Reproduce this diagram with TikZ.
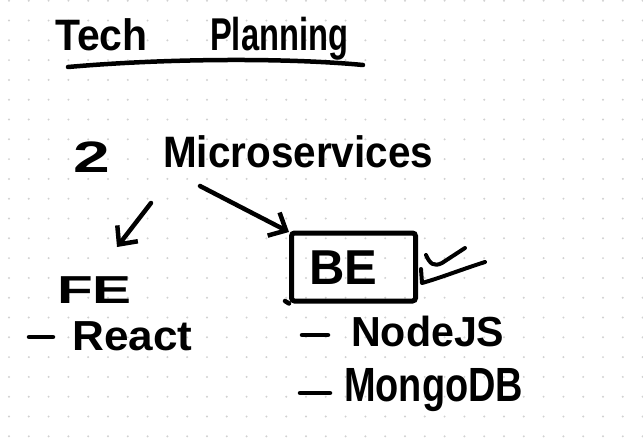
\documentclass[tikz,border=0pt]{standalone}
\usepackage{fontspec}
\setmainfont{Liberation Sans}
\usetikzlibrary{arrows.meta}
\tikzset{
  ink/.style={line width=4.5pt, line cap=round, line join=round, draw=black},
  hand/.style={inner sep=0pt, anchor=base west, font=\fontsize{#1}{#1}\selectfont\bfseries},
  barb/.style={-{Straight Barb[length=14pt, width=26pt]}},
  griddot/.style={fill=black!18, draw=none}
}
\begin{document}
\begin{tikzpicture}[x=1pt, y=-1pt]
\useasboundingbox (0,0) rectangle (643,440);
\fill[white] (0,0) rectangle (643,440);
% dot grid
\foreach \i in {0,...,32} {
  \foreach \j in {0,...,22} {
    \fill[griddot] ({9+19.8*\i},{0.7+19.8*\j}) circle (1.1pt);
  }
}
% title
\node[hand=44] (tech) at (55,50) {\scalebox{0.93}[1]{Tech}};
\node[hand=46] (plan) at (210,50) {\scalebox{0.71}[1]{Planning}};
\coordinate (ul1) at (68,67);
\coordinate (ul2) at (363,65);
\draw[ink] (ul1) .. controls (170,58) and (290,58) .. (ul2);
% 2 microservices
\node[hand=44] (two) at (73,172) {\scalebox{1.5}[1]{2}};
\node[hand=44] (micro) at (163,167) {\scalebox{0.92}[1]{Microservices}};
% arrows
\coordinate (a1s) at (151,203);
\coordinate (a1e) at (117,247);
\draw[ink, barb] (a1s) -- (a1e);
\coordinate (a2s) at (200,186);
\coordinate (a2e) at (289,232);
\draw[ink, barb] (a2s) -- (a2e);
% FE
\node[hand=39] (fe) at (57,303) {\scalebox{1.5}[1]{FE}};
\coordinate (d1a) at (29,337);
\coordinate (d1b) at (53,337);
\draw[ink] (d1a) -- (d1b);
\node[hand=42] (react) at (72,350) {\scalebox{1.05}[1]{React}};
% BE box
\node[draw, line width=5pt, minimum width=124pt, minimum height=68pt, rounded corners=3pt, inner sep=0pt] (bebox) at (353.5,267) {};
\node[hand=49] (be) at (309,284) {\scalebox{1.0}[1]{BE}};
\coordinate (bl) at (285,301);
\draw[ink] (bl) -- (bebox.south west);
% checkmark
\coordinate (c1a) at (426,255);
\coordinate (c1b) at (465,248);
\draw[ink, line width=4pt] (c1a) .. controls (430,264) and (434,267) .. (442,263) -- (c1b);
\coordinate (c2a) at (421,269);
\coordinate (c2b) at (485,262);
\draw[ink, line width=4pt] (c2a) -- (422,283) .. controls (440,278) and (460,270) .. (c2b);
% NodeJS
\coordinate (d2a) at (302,335);
\coordinate (d2b) at (328,335);
\draw[ink] (d2a) -- (d2b);
\node[hand=42] (node) at (351,346) {\scalebox{0.98}[1]{NodeJS}};
% MongoDB
\coordinate (d3a) at (300,393);
\coordinate (d3b) at (330,393);
\draw[ink] (d3a) -- (d3b);
\node[hand=48] (mongo) at (344,401) {\scalebox{0.79}[1]{MongoDB}};
\end{tikzpicture}
\end{document}
